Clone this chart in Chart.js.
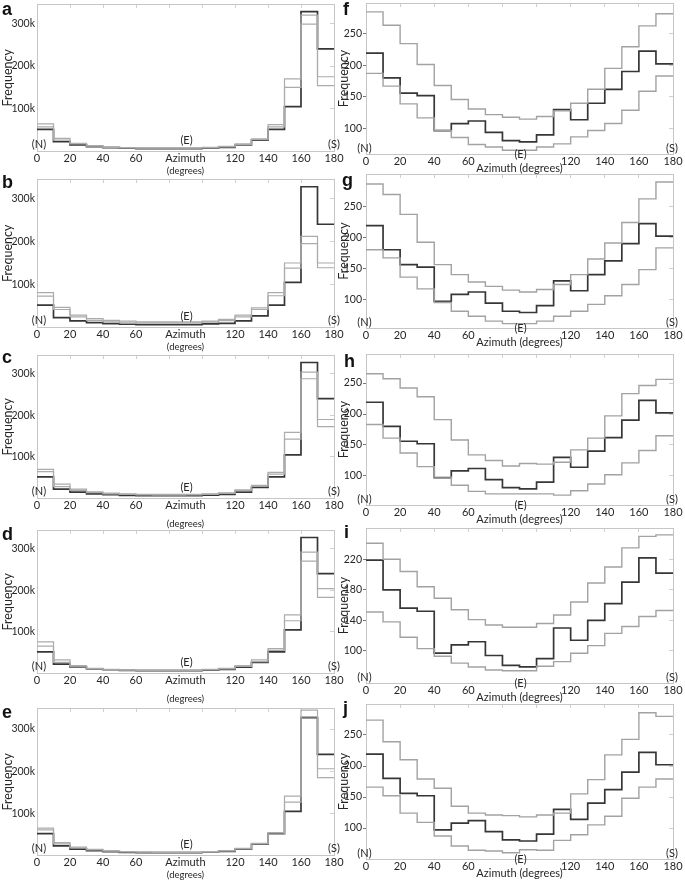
<!DOCTYPE html>
<html>
<head>
<meta charset="utf-8">
<title>Azimuth histograms</title>
<script src="https://cdn.jsdelivr.net/npm/chart.js@4.4.1/dist/chart.umd.min.js"></script>
<style>
  html, body { margin: 0; padding: 0; background: #fff; }
  #page { position: relative; width: 685px; height: 882px; overflow: hidden; background: #fff; }
  #page canvas { position: absolute; }
  .tag { position: absolute; font: bold 18px "Liberation Sans", Arial, sans-serif; line-height: 18px; color: #111; }
</style>
</head>
<body>
<div id="page"></div>
<script>
// bin edges (degrees), 10 degree bins
const binEdges = [0, 10, 20, 30, 40, 50, 60, 70, 80, 90, 100, 110, 120, 130, 140, 150, 160, 170, 180];

// left column (a-e): counts per bin
const leftBlack = [52000, 23000, 15500, 11500, 9300, 7800, 7000, 7000, 7000, 7000, 8500, 10000, 15500, 27000, 52000, 105000, 327000, 240000];
const aGrayHi = [65000, 31000, 19500, 14000, 11000, 9500, 8500, 8500, 8500, 8500, 10000, 12000, 18000, 30000, 63000, 170000, 319000, 175000];
const aGrayLo = [58000, 27000, 18000, 13000, 10000, 8500, 7800, 7800, 7800, 7800, 9000, 11000, 16500, 28000, 58000, 150000, 298000, 154000];
const bGrayHi = [81000, 47000, 29000, 21000, 17000, 15000, 13500, 13500, 13500, 13500, 15000, 19000, 29000, 46000, 81000, 150000, 212000, 150000];
const bGrayLo = [73000, 42000, 25000, 17000, 13500, 11000, 11000, 11000, 11000, 11000, 12500, 16000, 25000, 42000, 74000, 138000, 195000, 139000];
const cGrayHi = [70000, 35000, 23000, 16000, 13000, 11500, 10500, 10000, 10000, 10500, 11500, 14000, 21000, 32000, 63000, 159000, 304000, 190000];
const cGrayLo = [65000, 29000, 20000, 14500, 11500, 10000, 9000, 8500, 8500, 9000, 10000, 12500, 19000, 30000, 59000, 143000, 288000, 173000];
const dGrayHi = [76000, 33000, 19000, 12500, 10500, 9000, 8500, 8500, 8500, 8500, 10000, 12500, 19000, 33000, 60000, 141000, 292000, 204000];
const dGrayLo = [66000, 27000, 16000, 11500, 9500, 8200, 7800, 7800, 7800, 7800, 9000, 11500, 17000, 29000, 56000, 127000, 270000, 183000];
const eGrayHi = [65000, 31000, 20000, 15000, 11500, 9500, 8500, 8000, 8000, 8000, 9500, 11500, 17000, 29000, 54500, 141000, 345000, 206000];
const eGrayLo = [61000, 28000, 18000, 13500, 10500, 8800, 8000, 7500, 7500, 7500, 9000, 11000, 16000, 28000, 51000, 127000, 329000, 185000];

// right column (f-j)
const rightBlack = [219, 180, 156, 152, 97, 108, 112, 94, 81, 79, 90, 130, 114, 140, 162, 190, 222, 202];
const fUpper = [284, 263, 234, 201, 168, 146, 131, 122, 118, 115, 119, 128, 140, 162, 195, 229, 262, 281];
const fLower = [187, 167, 139, 117, 97, 86, 75, 71, 66, 66, 71, 76, 87, 97, 108, 129, 159, 183];
const gUpper = [286, 269, 237, 192, 156, 140, 128, 121, 115, 112, 116, 124, 140, 165, 191, 224, 262, 289];
const gLower = [180, 167, 136, 117, 95, 81, 73, 65, 61, 61, 65, 73, 81, 92, 106, 124, 148, 183];
const hUpper = [265, 257, 242, 228, 191, 158, 134, 125, 116, 120, 119, 122, 142, 161, 197, 233, 246, 256];
const hLower = [183, 161, 137, 115, 98, 85, 75, 71, 71, 71, 71, 69, 76, 87, 102, 121, 141, 165];
const iUpper = [241, 220, 204, 184, 169, 154, 141, 134, 131, 131, 136, 147, 164, 189, 210, 235, 250, 252];
const iLower = [151, 138, 118, 103, 93, 84, 79, 75, 74, 74, 80, 86, 97, 107, 123, 132, 145, 153];
const jUpper = [274, 239, 210, 179, 164, 135, 124, 121, 120, 118, 121, 124, 155, 178, 218, 243, 286, 280];
const jLower = [166, 152, 124, 109, 87, 71, 64, 63, 60, 65, 64, 80, 89, 105, 119, 148, 166, 179];

// tick labels
const leftXTicks = [0, 20, 40, 60, 90, 120, 140, 160, 180];
const leftXLabels = ['0', '20', '40', '60', 'Azimuth', '120', '140', '160', '180'];
const rightXTicks = [0, 20, 40, 60, 120, 140, 160, 180];
const rightXLabels = ['0', '20', '40', '60', '120', '140', '160', '180'];
const topTickMarks = [20, 40, 60, 80, 100, 120, 140, 160];
const leftYTicks = [100000, 200000, 300000];
const leftYLabels = ['100k', '200k', '300k'];
const rightYTicks = [100, 150, 200, 250];
const iYTicks = [100, 140, 180, 220];

const leftLetters = ['a', 'b', 'c', 'd', 'e'];
const rightLetters = ['f', 'g', 'h', 'i', 'j'];
const leftGrays = [[aGrayHi, aGrayLo], [bGrayHi, bGrayLo], [cGrayHi, cGrayLo], [dGrayHi, dGrayLo], [eGrayHi, eGrayLo]];
const rightGrays = [[fUpper, fLower], [gUpper, gLower], [hUpper, hLower], [iUpper, iLower], [jUpper, jLower]];

// page layout (plot frames in page pixels)
const leftFrames = [
  {T: 4,   B: 152, degDy: 20, tag: [2, 0]},
  {T: 179, B: 328, degDy: 20, tag: [2, 173]},
  {T: 355, B: 499, degDy: 26, tag: [2, 348]},
  {T: 530, B: 674, degDy: 26, tag: [2, 525]},
  {T: 708, B: 856, degDy: 20, tag: [2, 703]}
];
const rightFrames = [
  {T: 3,   B: 154, yMin: 60, yMax: 298, tag: [343, 0]},
  {T: 174, B: 328, yMin: 54, yMax: 302, tag: [342, 171]},
  {T: 354, B: 505, yMin: 53, yMax: 297, tag: [344, 352]},
  {T: 528, B: 683, yMin: 58, yMax: 261, tag: [344, 523]},
  {T: 704, B: 859, yMin: 50, yMax: 300, tag: [343, 699]}
];

const FONT = 'Lato';
const TXT = '#262626';
const FRAME = '#c6c6c6';
const PAD_T = 4;
const PAD_R = 12;

const page = document.getElementById('page');

function steps(counts) {
  return binEdges.map((x, i) => ({x: x, y: counts[Math.min(i, counts.length - 1)]}));
}

function fixedTicks(values) {
  return scale => { scale.ticks = values.map(v => ({value: v})); };
}

function zeroPad(scale) {
  scale.paddingLeft = 0;
  scale.paddingRight = 0;
  scale.paddingTop = 0;
  scale.paddingBottom = 0;
}

// (N) (E) (S) markers along the azimuth axis
const compassMarks = {
  id: 'compassMarks',
  afterDraw(chart, args, opts) {
    const {ctx, chartArea} = chart;
    const x = chart.scales.x;
    const b = chartArea.bottom;
    ctx.save();
    ctx.font = '11px ' + FONT;
    ctx.fillStyle = TXT;
    ctx.textAlign = 'center';
    ctx.textBaseline = 'middle';
    ctx.fillText('(N)', x.getPixelForValue(0) + opts.nDx, b + opts.nsDy);
    ctx.fillText('(E)', x.getPixelForValue(90) + 1, b + opts.eDy);
    ctx.fillText('(S)', x.getPixelForValue(180) + opts.sDx, b + opts.nsDy);
    ctx.restore();
  }
};

function addPanel(p) {
  const w = p.R - p.L + p.yW + PAD_R;
  const h = p.B - p.T + PAD_T + p.xH;
  const cv = document.createElement('canvas');
  cv.width = w;
  cv.height = h;
  cv.style.left = (p.L - p.yW) + 'px';
  cv.style.top = (p.T - PAD_T) + 'px';
  cv.style.width = w + 'px';
  cv.style.height = h + 'px';
  page.appendChild(cv);

  const tag = document.createElement('div');
  tag.className = 'tag';
  tag.textContent = p.letter;
  tag.style.left = p.tag[0] + 'px';
  tag.style.top = p.tag[1] + 'px';
  page.appendChild(tag);

  const grayLine = {borderColor: p.grayColor, borderWidth: p.grayWidth, stepped: true, pointRadius: 0, fill: false};

  new Chart(cv, {
    type: 'line',
    data: {
      datasets: [
        Object.assign({data: steps(p.hi)}, grayLine),
        Object.assign({data: steps(p.lo)}, grayLine),
        {data: steps(p.black), borderColor: '#363636', borderWidth: 1.7, stepped: true, pointRadius: 0, fill: false}
      ]
    },
    options: {
      responsive: false,
      animation: false,
      devicePixelRatio: 1,
      layout: {padding: {left: 0, top: PAD_T, right: PAD_R, bottom: 0}},
      plugins: {
        legend: {display: false},
        tooltip: {enabled: false},
        compassMarks: p.marks
      },
      scales: {
        x: {
          type: 'linear', min: 0, max: 180,
          afterBuildTicks: fixedTicks(p.xTicks),
          afterFit: s => { zeroPad(s); s.height = p.xH; },
          grid: {display: false, drawTicks: false},
          border: {display: true, color: FRAME},
          ticks: {
            autoSkip: false, maxRotation: 0, padding: p.xPad, color: TXT,
            font: {family: FONT, size: 11},
            callback: v => p.xLabels[p.xTicks.indexOf(v)]
          },
          title: {display: true, text: p.xTitle, color: TXT, font: {family: FONT, size: p.xTitleSize}, padding: 0}
        },
        x2: {
          type: 'linear', position: 'top', min: 0, max: 180,
          afterBuildTicks: fixedTicks(topTickMarks),
          afterFit: s => { zeroPad(s); s.height = 0; },
          grid: {display: true, drawOnChartArea: false, drawTicks: true, tickLength: -4, color: '#cfcfcf'},
          border: {display: true, color: FRAME},
          ticks: {display: false}
        },
        y: {
          type: 'linear', min: p.yMin, max: p.yMax,
          afterBuildTicks: fixedTicks(p.yTicks),
          afterFit: s => { zeroPad(s); s.width = p.yW; },
          grid: {display: p.yTickLen > 0, drawOnChartArea: false, drawTicks: p.yTickLen > 0, tickLength: p.yTickLen, color: '#777'},
          border: {display: true, color: FRAME},
          ticks: {
            padding: p.yPad, color: TXT,
            font: {family: FONT, size: 10.5},
            callback: v => p.yLabels[p.yTicks.indexOf(v)]
          },
          title: {display: true, text: 'Frequency', color: TXT, font: {family: FONT, size: 12.5}, padding: 0}
        },
        y2: {
          type: 'linear', position: 'right', min: p.yMin, max: p.yMax,
          afterBuildTicks: fixedTicks(p.yTicks),
          afterFit: s => { zeroPad(s); s.width = 0; },
          grid: {display: true, drawOnChartArea: false, drawTicks: true, tickLength: -4, color: '#cfcfcf'},
          border: {display: true, color: FRAME},
          ticks: {display: false}
        }
      }
    },
    plugins: [compassMarks]
  });
}

leftFrames.forEach((f, i) => {
  addPanel({
    L: 37, R: 334, T: f.T, B: f.B, yW: 37, xH: f.degDy + 5.4,
    letter: leftLetters[i], tag: f.tag,
    black: leftBlack, hi: leftGrays[i][0], lo: leftGrays[i][1],
    grayColor: '#ababab', grayWidth: 1.2,
    xTicks: leftXTicks, xLabels: leftXLabels, xPad: 0,
    xTitle: '(degrees)', xTitleSize: 9.5,
    yMin: 0, yMax: i === 4 ? 350000 : 345000,
    yTicks: leftYTicks, yLabels: leftYLabels, yTickLen: 0, yPad: 2,
    marks: {nDx: 2, sDx: 0, nsDy: -7, eDy: -11}
  });
});

rightFrames.forEach((f, i) => {
  const yt = i === 3 ? iYTicks : rightYTicks;
  addPanel({
    L: 366, R: 673, T: f.T, B: f.B, yW: 30, xH: 21,
    letter: rightLetters[i], tag: f.tag,
    black: rightBlack, hi: rightGrays[i][0], lo: rightGrays[i][1],
    grayColor: '#a2a2a2', grayWidth: 1.4,
    xTicks: rightXTicks, xLabels: rightXLabels, xPad: 1,
    xTitle: 'Azimuth (degrees)', xTitleSize: 11,
    yMin: f.yMin, yMax: f.yMax,
    yTicks: yt, yLabels: yt.map(String), yTickLen: 3, yPad: 1,
    marks: {nDx: -1.5, sDx: -1, nsDy: -6, eDy: 0}
  });
});
</script>
</body>
</html>
